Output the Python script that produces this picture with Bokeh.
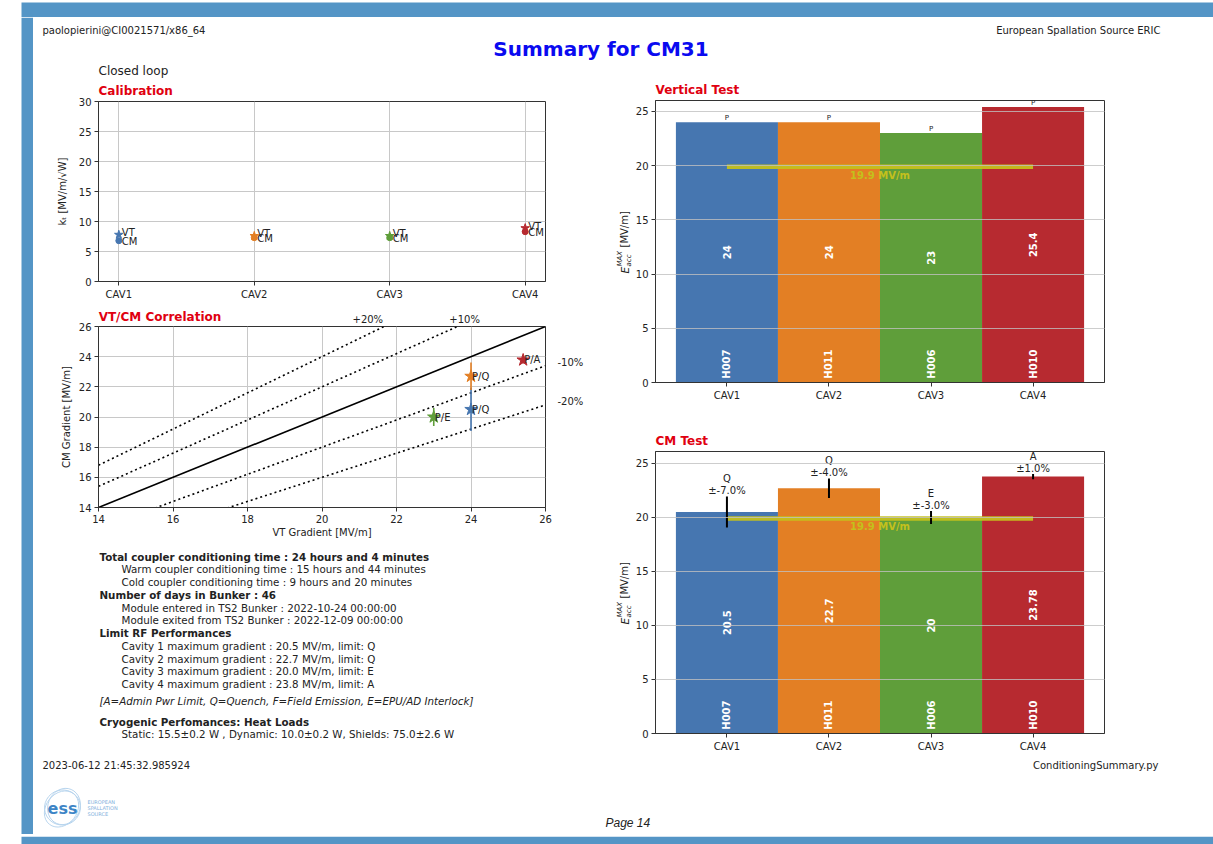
import math
from bokeh.plotting import figure
from bokeh.layouts import column, row
from bokeh.models import Range1d, FixedTicker, Title, LinearAxis
from bokeh.core.properties import value
from bokeh.embed import file_html
from bokeh.resources import INLINE

# ---------------- data ----------------
cavities = ["CAV1", "CAV2", "CAV3", "CAV4"]
cavity_serials = ["H007", "H011", "H006", "H010"]
cavity_colors = ["#4676b0", "#e37f24", "#5f9e3a", "#b72a30"]
kt_vt = [7.8, 7.6, 7.6, 8.9]
kt_cm = [6.8, 7.3, 7.3, 8.3]
vt_gradient = [24.0, 24.0, 23.0, 25.4]
vt_limit = ["P", "P", "P", "P"]
cm_gradient = [20.5, 22.7, 20.0, 23.78]
cm_limit = ["Q", "Q", "E", "A"]
cm_error_pct = [-7.0, -4.0, -3.0, 1.0]
spec_gradient = 19.9
band_factors = [1.2, 1.1, 0.9, 0.8]
band_labels = ["+20%", "+10%", "-10%", "-20%"]
calib_yticks = [0, 5, 10, 15, 20, 25, 30]
corr_ticks = [14, 16, 18, 20, 22, 24, 26]
bar_yticks = [0, 5, 10, 15, 20, 25]

header_left = "paolopierini@CI0021571/x86_64"
header_right = "European Spallation Source ERIC"
page_title = "Summary for CM31"
loop_mode = "Closed loop"
timestamp = "2023-06-12 21:45:32.985924"
script_name = "ConditioningSummary.py"
page_label = "Page 14"

summary_lines = [
    ("bold", "Total coupler conditioning time : 24 hours and 4 minutes"),
    ("sub", "Warm coupler conditioning time : 15 hours and 44 minutes"),
    ("sub", "Cold coupler conditioning time : 9 hours and 20 minutes"),
    ("bold", "Number of days in Bunker : 46"),
    ("sub", "Module entered in TS2 Bunker : 2022-10-24 00:00:00"),
    ("sub", "Module exited from TS2 Bunker : 2022-12-09 00:00:00"),
    ("bold", "Limit RF Performances"),
]
limit_legend = "[A=Admin Pwr Limit, Q=Quench, F=Field Emission, E=EPU/AD Interlock]"
cryo_title = "Cryogenic Perfomances: Heat Loads"
cryo_line = "Static: 15.5\u00b10.2 W , Dynamic: 10.0\u00b10.2 W, Shields: 75.0\u00b12.6 W"

# ---------------- style ----------------
FONT = "DejaVu Sans"
INK = "#222222"
RED = "#e00010"
FRAME = "#333333"
PAGE_BLUE = "#5495c6"
SPEC_COLOR = "#c4c01c"
idx = list(range(len(cavities)))


def panel(x0, x1, y0, y1, left=0, right=0, top=0, bottom=0,
          x_range=None, y_range=None):
    """White text/decoration panel whose frame covers page pixels x0..x1, y0..y1."""
    w = int(round(x1 - x0 + left + right))
    h = int(round(y1 - y0 + top + bottom))
    f = figure(width=w, height=h, min_border_left=left, min_border_right=right,
               min_border_top=top, min_border_bottom=bottom,
               toolbar_location=None, output_backend="svg",
               x_axis_type=None, y_axis_type=None,
               x_range=x_range if x_range is not None else Range1d(x0, x1),
               y_range=y_range if y_range is not None else Range1d(y1, y0),
               background_fill_color="white", border_fill_color="white",
               outline_line_color=None)
    return f


def txt(p, x, y, s, size="10px", style="normal", align="left", color=INK,
        font=FONT, baseline="middle", angle=0.0):
    p.text(x=[x], y=[y], text=[s], text_font=value(font), text_font_size=size,
           text_font_style=style, text_align=align, text_baseline=baseline,
           text_color=color, angle=angle)


def add_title(p, s, standoff, size="12px", style="bold", color=RED):
    p.add_layout(Title(text=s, align="left", text_font=FONT, text_font_size=size,
                       text_font_style=style, text_color=color,
                       standoff=standoff), "above")


def label_axis(p, side, ticks, labels, standoff, size="10px", style="normal",
               color=INK):
    ax = LinearAxis(ticker=FixedTicker(ticks=ticks),
                    major_label_overrides={t: s for t, s in zip(ticks, labels)},
                    axis_line_color=None, major_tick_line_color=None,
                    major_tick_in=0, major_tick_out=0, minor_tick_in=0,
                    minor_tick_out=0, major_label_standoff=standoff,
                    major_label_text_font=FONT, major_label_text_font_size=size,
                    major_label_text_font_style=style,
                    major_label_text_color=color)
    p.add_layout(ax, side)


def style_plot(p):
    p.outline_line_color = FRAME
    p.outline_line_width = 1
    p.background_fill_color = "white"
    p.border_fill_color = "white"
    for ax in p.axis:
        ax.major_label_text_font = FONT
        ax.major_label_text_font_size = "10px"
        ax.major_label_text_color = INK
        ax.axis_label_text_font = FONT
        ax.axis_label_text_font_size = "10px"
        ax.axis_label_text_font_style = "normal"
        ax.axis_label_text_color = INK
        ax.major_tick_in = 0
        ax.major_tick_out = 4
        ax.minor_tick_in = 0
        ax.minor_tick_out = 0
        ax.axis_line_color = FRAME
        ax.major_tick_line_color = FRAME
        ax.major_label_standoff = 3
    p.grid.grid_line_color = "#c8c8c8"
    p.grid.grid_line_width = 1


def eacc_strip(top, bottom, frame_h):
    # rotated composite label E_acc^MAX [MV/m]; y measured upward from frame bottom
    s = panel(590, 632, 0, frame_h, top=top, bottom=bottom,
              y_range=Range1d(0, frame_h))
    a = math.pi / 2
    txt(s, 624, 109, "E", size="10.5px", style="italic", angle=a)
    txt(s, 619.5, 116, "MAX", size="7px", style="italic", angle=a)
    txt(s, 628, 116, "acc", size="7px", style="italic", angle=a)
    txt(s, 624, 135, "[MV/m]", size="10px", angle=a)
    return s


# ---------------- page decoration ----------------
top_band = panel(0, 1213, 0, 17)
top_band.quad(left=[21], right=[1213], top=[2], bottom=[17], fill_color=PAGE_BLUE,
              line_color=None)
left_band = panel(0, 33, 17, 834)
left_band.quad(left=[21], right=[33], top=[17], bottom=[834], fill_color=PAGE_BLUE,
               line_color=None)
bottom_band = panel(0, 1213, 834, 844)
bottom_band.quad(left=[21], right=[1213], top=[834], bottom=[844],
                 fill_color=PAGE_BLUE, line_color=None)

# ---------------- header ----------------
hdr = panel(33, 1213, 17, 60)
txt(hdr, 42, 30, header_left, size="10px")
txt(hdr, 1160, 30, header_right, size="10px", align="right")
txt(hdr, 600.5, 48, page_title, size="20px", style="bold", align="center",
    color="#0a0af0")

# ---------------- calibration ----------------
cal = figure(width=557, height=243, x_range=Range1d(-0.15, 3.15),
             y_range=Range1d(0, 30), min_border_left=65, min_border_right=45,
             min_border_top=40, min_border_bottom=22, toolbar_location=None,
             output_backend="svg", title=None)
style_plot(cal)
add_title(cal, "Calibration", 7)
add_title(cal, loop_mode, 2, style="normal", color=INK)
cal.xaxis.ticker = FixedTicker(ticks=idx)
cal.xaxis.major_label_overrides = {i: c for i, c in zip(idx, cavities)}
cal.yaxis.ticker = FixedTicker(ticks=calib_yticks)
cal.yaxis.axis_label = "k\u209c [MV/m/\u221aW]"
cal.yaxis.axis_label_standoff = 8
cal.scatter(x=idx, y=kt_vt, marker="star", size=9, color=cavity_colors)
cal.scatter(x=idx, y=kt_cm, marker="circle", size=6, color=cavity_colors)
cal.text(x=idx, y=kt_vt, text=["VT"] * len(idx), x_offset=3, y_offset=-2,
         text_font=value(FONT), text_font_size="10px", text_color=INK,
         text_baseline="middle")
cal.text(x=idx, y=kt_cm, text=["CM"] * len(idx), x_offset=3, y_offset=1,
         text_font=value(FONT), text_font_size="10px", text_color=INK,
         text_baseline="middle")

# ---------------- VT/CM correlation ----------------
cor = figure(width=557, height=245, x_range=Range1d(corr_ticks[0], corr_ticks[-1]),
             y_range=Range1d(corr_ticks[0], corr_ticks[-1]), min_border_left=65,
             min_border_right=45, min_border_top=23, min_border_bottom=41,
             toolbar_location=None, output_backend="svg", title=None)
style_plot(cor)
cor.xaxis.ticker = FixedTicker(ticks=corr_ticks)
cor.yaxis.ticker = FixedTicker(ticks=corr_ticks)
cor.xaxis.axis_label = "VT Gradient [MV/m]"
cor.yaxis.axis_label = "CM Gradient [MV/m]"
cor.xaxis.axis_label_standoff = 1
cor.yaxis.axis_label_standoff = 4
xs = [corr_ticks[0], corr_ticks[-1]]
cor.line(x=xs, y=xs, line_color="black", line_width=1.6)
for k in band_factors:
    cor.line(x=xs, y=[k * v for v in xs], line_color="black", line_width=1.6,
             line_dash="2 3")
cm_err = [abs(pc) / 100.0 * g for pc, g in zip(cm_error_pct, cm_gradient)]
cor.segment(x0=vt_gradient, y0=[g - e for g, e in zip(cm_gradient, cm_err)],
            x1=vt_gradient, y1=[g + e for g, e in zip(cm_gradient, cm_err)],
            line_color=cavity_colors, line_width=1.6)
cor.scatter(x=vt_gradient, y=cm_gradient, marker="star", size=13,
            color=cavity_colors)
cor.text(x=vt_gradient, y=cm_gradient,
         text=[f"{a}/{b}" for a, b in zip(vt_limit, cm_limit)], x_offset=1,
         text_font=value(FONT), text_font_size="10px", text_color=INK,
         text_baseline="alphabetic")
# band labels above the frame (label centres) and right of the frame
upper_label_x = [21.23, 23.83]
label_axis(cor, "above", upper_label_x, band_labels[:2], 2)
# panel title on the same line, left edge at the frame's left edge
title_x = [15.65]
label_axis(cor, "above", title_x, ["VT/CM Correlation"], -13, size="12px",
           style="bold", color=RED)
right_label_y = [round(corr_ticks[-1] * k + 0.2, 2) for k in band_factors[2:]]
label_axis(cor, "right", right_label_y, band_labels[2:], 12)

# ---------------- summary text ----------------
tb = panel(98, 545, 548, 755, left=65, right=45)
y = 556.0
for kind, s in summary_lines:
    if kind == "bold":
        txt(tb, 99, y, s, size="10.3px", style="bold")
    else:
        txt(tb, 121, y, s, size="10.3px")
    y += 12.75
for i, (g, l) in enumerate(zip(cm_gradient, cm_limit)):
    txt(tb, 121, y, f"Cavity {i + 1} maximum gradient : {g:.1f} MV/m, limit: {l}",
        size="10.3px")
    y += 12.75
txt(tb, 99, 700.7, limit_legend, size="10.3px", style="italic")
txt(tb, 99, 721.3, cryo_title, size="10.3px", style="bold")
txt(tb, 121, 733.6, cryo_line, size="10.3px")


# ---------------- bar charts ----------------
def bar_chart(height, ymax, top_border, bottom_border, grads, title):
    p = figure(width=581, height=height, x_range=Range1d(-0.7, 3.7),
               y_range=Range1d(0, ymax), min_border_left=23,
               min_border_right=109, min_border_top=top_border,
               min_border_bottom=bottom_border, toolbar_location=None,
               output_backend="svg", title=None)
    style_plot(p)
    add_title(p, title, 7)
    p.xgrid.visible = False
    p.ygrid.level = "annotation"
    p.ygrid.grid_line_color = "#c0c0c0"
    p.ygrid.grid_line_alpha = 0.8
    p.xaxis.ticker = FixedTicker(ticks=idx)
    p.xaxis.major_label_overrides = {i: c for i, c in zip(idx, cavities)}
    p.yaxis.ticker = FixedTicker(ticks=bar_yticks)
    p.vbar(x=idx, top=grads, width=1.0, fill_color=cavity_colors,
           line_color=None)
    p.segment(x0=[idx[0]], x1=[idx[-1]], y0=[spec_gradient], y1=[spec_gradient],
              line_color=SPEC_COLOR, line_width=4.5, line_alpha=0.95)
    p.text(x=[(idx[0] + idx[-1]) / 2.0], y=[spec_gradient],
           text=[f"{spec_gradient} MV/m"], y_offset=3, text_font=value(FONT),
           text_font_size="10px", text_font_style="bold",
           text_color=SPEC_COLOR, text_align="center", text_baseline="top")
    p.text(x=idx, y=[g / 2.0 for g in grads], text=[f"{g:g}" for g in grads],
           angle=math.pi / 2, text_font=value(FONT), text_font_size="10px",
           text_font_style="bold", text_color="white", text_align="center",
           text_baseline="middle")
    p.text(x=idx, y=[0.35] * len(idx), text=cavity_serials, angle=math.pi / 2,
           text_font=value(FONT), text_font_size="10px", text_font_style="bold",
           text_color="white", text_align="left", text_baseline="middle")
    return p


vt = bar_chart(350, 26.0, 40, 28, vt_gradient, "Vertical Test")
vt.text(x=idx, y=vt_gradient, text=vt_limit, text_font=value(FONT),
        text_font_size="7px", text_color=INK, text_align="center",
        text_baseline="bottom")

cm = bar_chart(345, 26.1, 41, 22, cm_gradient, "CM Test")
cm.segment(x0=idx, x1=idx, y0=[g - e for g, e in zip(cm_gradient, cm_err)],
           y1=[g + e for g, e in zip(cm_gradient, cm_err)], line_color="black",
           line_width=2)
cm.text(x=idx, y=[g + e for g, e in zip(cm_gradient, cm_err)],
        text=[f"{l}\n\u00b1{pc:.1f}%" for l, pc in zip(cm_limit, cm_error_pct)],
        text_font=value(FONT), text_font_size="10px", text_color=INK,
        text_align="center", text_baseline="bottom", text_line_height=1.1)

vt_label = eacc_strip(40, 28, 282)
cm_label = eacc_strip(41, 22, 282)

# ---------------- footer ----------------
ftr = panel(33, 1213, 755, 834)
txt(ftr, 42, 765, timestamp, size="10px")
txt(ftr, 1158, 765, script_name, size="10px", align="right")
txt(ftr, 605, 822, page_label, size="12px", style="italic",
    font="Liberation Sans")
ftr.ellipse(x=[62, 63.5, 61], y=[807, 806, 808.5], width=[36, 32, 39],
            height=[35, 37, 31], angle=[0.3, -0.4, 0.9], fill_color=None,
            line_color="#b8d5ee", line_width=1)
txt(ftr, 62, 808, "ess", size="16px", style="bold", align="center",
    color="#3d85c6")
for yy, s in zip([801, 807, 813], ["EUROPEAN", "SPALLATION", "SOURCE"]):
    txt(ftr, 87, yy, s, size="5px", color="#7fb0dc")

# ---------------- page assembly ----------------
left_col = column(cal, cor, tb, spacing=0)
label_col = column(vt_label, cm_label, spacing=0)
plot_col = column(vt, cm, spacing=0)
content = column(hdr, row(left_col, label_col, plot_col, spacing=0), ftr,
                 spacing=0)
page = column(top_band, row(left_band, content, spacing=0), bottom_band,
              spacing=0)

open("out.html", "w").write(file_html(page, INLINE))
